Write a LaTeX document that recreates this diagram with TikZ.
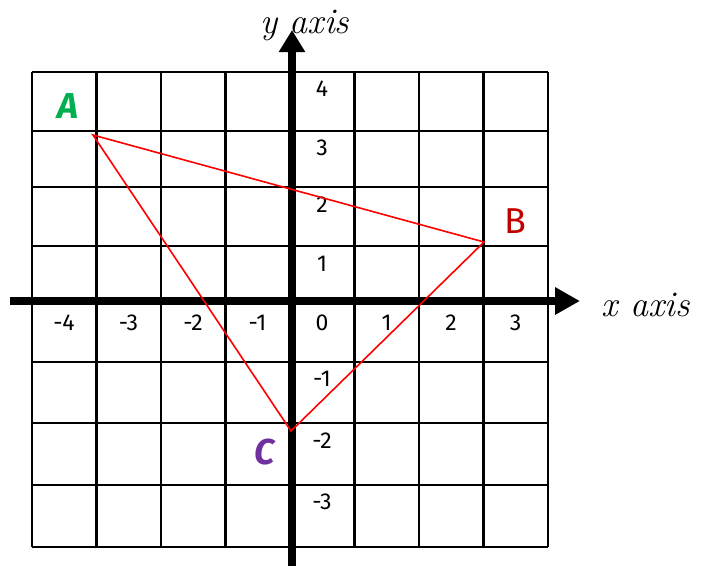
\documentclass[tikz,border=0pt]{standalone}
\usepackage{fontspec}
\newfontfamily\numfont{Fira Sans}
\usetikzlibrary{arrows.meta}
\definecolor{ptgreen}{RGB}{0,176,80}
\definecolor{ptred}{RGB}{192,0,0}
\definecolor{ptpurple}{RGB}{112,48,160}
\begin{document}
\begin{tikzpicture}[x=1pt, y=-1pt]
  \useasboundingbox (0,0) rectangle (702,566);
  % grid
  \foreach \x in {32,96.5,161,225.5,290,354.5,419,483.5,548} {
    \draw[line width=2.2pt] (\x,72) -- (\x,547);
  }
  \foreach \y in {72,131,187,246,301,362,423,485,547} {
    \draw[line width=2.2pt] (32,\y) -- (548,\y);
  }
  % axes
  \coordinate (xstart) at (10,301);
  \coordinate (xend) at (580,301);
  \coordinate (ystart) at (292,566);
  \coordinate (yend) at (292,30);
  \draw[line width=8pt, -{Triangle[length=25pt,width=26pt]}] (xstart) -- (xend);
  \draw[line width=8pt, -{Triangle[length=22pt,width=25pt]}] (ystart) -- (yend);
  \node[font=\fontsize{36}{40}\selectfont\itshape, anchor=base west, inner sep=0pt] (xname) at (601,316) {x axis};
  \node[font=\fontsize{36}{40}\selectfont\itshape, anchor=base west, inner sep=0pt] (yname) at (260,33) {y axis};
  \foreach \i/\t in {0/-4, 1/-3, 2/-2, 3/-1, 4/0, 5/1, 6/2, 7/3} {
    \node[font=\numfont\fontsize{23}{27}\selectfont] (xl\i) at (64+64.5*\i,323) {\t};
  }
  \foreach \y/\t in {89/4, 148/3, 205/2, 264/1, 379/-1, 441/-2, 502/-3} {
    \node[font=\numfont\fontsize{23}{27}\selectfont] (yl\t) at (322,\y) {\t};
  }
  % triangle
  \coordinate (A) at (93,135);
  \coordinate (B) at (484,242);
  \coordinate (C) at (291,431);
  \draw[red, line width=1.6pt] (A) -- (B) -- (C) -- cycle;
  \node[font=\numfont\fontsize{36}{40}\selectfont\itshape\bfseries, text=ptgreen] (labA) at (68,106) {A};
  \node[font=\numfont\fontsize{36}{40}\selectfont, text=ptred] (labB) at (515,221) {B};
  \node[font=\numfont\fontsize{36}{40}\selectfont\itshape\bfseries, text=ptpurple] (labC) at (265,452) {C};
\end{tikzpicture}
\end{document}
